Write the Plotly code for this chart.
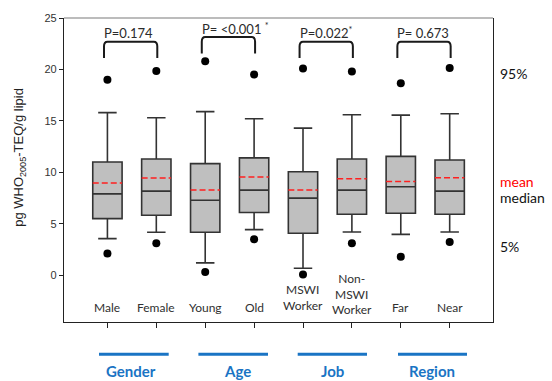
import plotly.graph_objects as go

# Dioxin levels by subgroup (pg WHO2005-TEQ/g lipid)
categories = ["Male", "Female", "Young", "Old", "MSWI<br>Worker", "Non-<br>MSWI<br>Worker", "Far", "Near"]
p5 = [2.1, 3.1, 0.3, 3.49, 0.07, 3.1, 1.79, 3.22]
p10 = [3.55, 4.17, 1.2, 4.43, 0.68, 4.2, 3.97, 4.2]
q1 = [5.5, 5.83, 4.17, 6.09, 4.07, 5.93, 6.02, 5.93]
median = [7.9, 8.17, 7.29, 8.27, 7.49, 8.27, 8.59, 8.17]
mean = [8.95, 9.44, 8.27, 9.54, 8.27, 9.37, 9.11, 9.47]
q3 = [11.0, 11.3, 10.84, 11.4, 10.06, 11.3, 11.55, 11.2]
p90 = [15.8, 15.3, 15.9, 15.2, 14.3, 15.6, 15.56, 15.7]
p95 = [19.0, 19.85, 20.8, 19.5, 20.1, 19.8, 18.65, 20.15]

groups = ["Gender", "Age", "Job", "Region"]
p_values = ["P=0.174", "P= &lt;0.001 <sup>*</sup>", "P=0.022<sup>*</sup>", "P= 0.673"]

pos = list(range(len(categories)))
LAT = "Lato, 'Open Sans', sans-serif"
ARI = "'Liberation Sans', Arial, sans-serif"

fig = go.Figure()

# boxes: quartiles + 10th/90th percentile whiskers
fig.add_trace(go.Box(
    x=pos, q1=q1, median=median, q3=q3, lowerfence=p10, upperfence=p90,
    width=0.6, whiskerwidth=0.63, boxpoints=False,
    fillcolor="#BFBFBF", line=dict(color="#333333", width=1.6),
    showlegend=False, hoverinfo="skip",
))

# mean as red dashed line across each box
mx, my = [], []
for i, m in zip(pos, mean):
    mx += [i - 0.3, i + 0.3, None]
    my += [m, m, None]
fig.add_trace(go.Scatter(x=mx, y=my, mode="lines",
                         line=dict(color="#FF2020", width=1.5, dash="6px,3px"),
                         showlegend=False, hoverinfo="skip"))

# 5th and 95th percentiles as dots
fig.add_trace(go.Scatter(x=pos + pos, y=p5 + p95, mode="markers",
                         marker=dict(color="black", size=8),
                         showlegend=False, hoverinfo="skip"))

shapes = []
annotations = []

# significance brackets
for g, txt in enumerate(p_values):
    a, b = 2 * g, 2 * g + 1
    x0, x1 = a - 0.07, b + 0.02
    top = 23.15 if g == 1 else 22.7
    bot = top - 1.6
    rx, ry = 0.07, 0.45
    path = (f"M {x0},{bot} L {x0},{top - ry} Q {x0},{top} {x0 + rx},{top} "
            f"L {x1 - rx},{top} Q {x1},{top} {x1},{top - ry} L {x1},{bot}")
    shapes.append(dict(type="path", path=path, xref="x", yref="y",
                       line=dict(color="#1a1a1a", width=2)))
    annotations.append(dict(x=x0 - 0.04, y=top + 0.85, xref="x", yref="y",
                            text=txt, showarrow=False, xanchor="left", yanchor="middle",
                            font=dict(family=LAT, size=13, color="#2b2b2b")))

# category labels inside the frame
label_y = [-3.1, -3.1, -3.1, -3.1, -2.15, -1.85, -3.1, -3.1]
for i, (c, ly) in enumerate(zip(categories, label_y)):
    annotations.append(dict(x=i, y=ly, xref="x", yref="y", text=c, showarrow=False,
                            xanchor="center", yanchor="middle",
                            font=dict(family=LAT, size=12, color="#303030")))

# group underlines and names below the axis
line_px = [(99.3, 169), (198.7, 268.3), (298, 367.3), (398.3, 467.3)]
name_px = [131.7, 237.7, 332.7, 432.3]
L, W = 64.3, 429.0
for g, name in enumerate(groups):
    a, b = line_px[g]
    shapes.append(dict(type="line", xref="paper", yref="paper",
                       x0=(a - L) / W, x1=(b - L) / W, y0=-0.106, y1=-0.106,
                       line=dict(color="#1A74C4", width=3)))
    annotations.append(dict(x=(name_px[g] - L) / W, y=-0.196, xref="paper", yref="paper",
                            text=f"<b>{name}</b>", showarrow=False,
                            xanchor="center", yanchor="bottom",
                            font=dict(family=LAT, size=15, color="#1A74C4")))

# key on the right
for txt, yv, col in [("95%", 19.63, "#111111"), ("mean", 9.08, "#FF0000"),
                     ("median", 7.53, "#111111"), ("5%", 2.76, "#111111")]:
    annotations.append(dict(x=1, y=yv, xref="paper", yref="y", text=txt, showarrow=False,
                            xanchor="left", yanchor="middle", xshift=5,
                            font=dict(family=LAT, size=14, color=col)))

# y-axis title
annotations.append(dict(x=0, y=0.54, xref="paper", yref="paper", xshift=-44,
                        text="pg WHO<sub>2005</sub>-TEQ/g lipid", textangle=-90,
                        showarrow=False, xanchor="center", yanchor="middle",
                        font=dict(family=ARI, size=13, color="#222222")))

# top frame edge
shapes.append(dict(type="line", xref="paper", yref="paper", x0=0, x1=1, y0=1, y1=1,
                   line=dict(color="#7a7a7a", width=1.2)))

fig.update_layout(
    width=552, height=381,
    margin=dict(l=64, r=59, t=18, b=59),
    paper_bgcolor="white", plot_bgcolor="white",
    shapes=shapes, annotations=annotations,
    xaxis=dict(range=[-0.888, 7.886], tickvals=pos, showticklabels=False,
               ticks="outside", ticklen=5, tickcolor="#222222",
               showline=True, linecolor="#222222", linewidth=1.2,
               showgrid=False, zeroline=False),
    yaxis=dict(range=[-4.55, 25], tickvals=[0, 5, 10, 15, 20, 25],
               ticks="outside", ticklen=4, tickcolor="#222222",
               showline=True, mirror=True, linecolor="#222222", linewidth=1.2,
               showgrid=False, zeroline=False,
               tickfont=dict(family=ARI, size=11, color="#333333")),
)

fig.write_html("out.html")
